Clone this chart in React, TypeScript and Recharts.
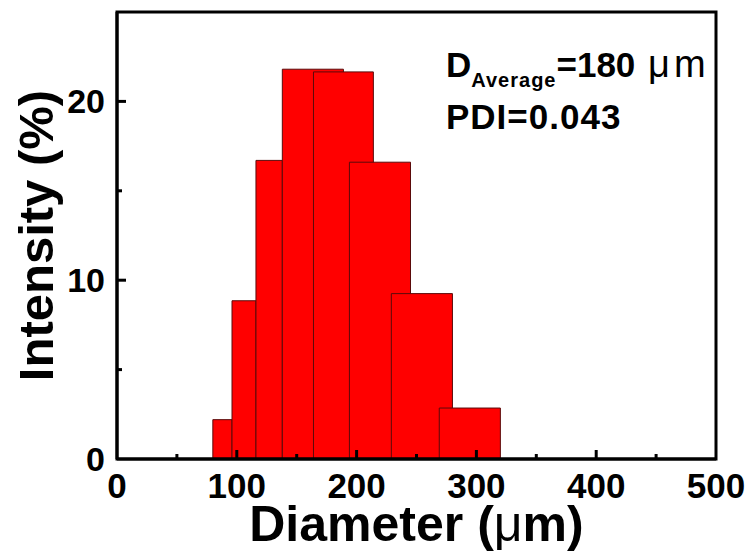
import React from "react";
import {
  ComposedChart,
  XAxis,
  YAxis,
  ReferenceArea,
  Scatter,
} from "recharts";

// Histogram bins (diameter in µm) and intensity (%)
const binStart = [80, 96, 116, 138, 164, 194, 229, 269];
const binEnd = [96, 116, 138, 189, 214, 245, 280, 320];
const intensity = [2.2, 8.85, 16.7, 21.8, 21.65, 16.6, 9.25, 2.85];

const xTicks = [0, 50, 100, 150, 200, 250, 300, 350, 400, 450, 500];
const xLabeled = [0, 100, 200, 300, 400, 500];
const yTicks = [0, 5, 10, 15, 20];
const yLabeled = [0, 10, 20];
const xDomain = [0, 500];
const yDomain = [0, 25];

const avgDiameter = "180";
const pdi = "0.043";

const bins = binStart.map((s, i) => ({
  start: s,
  end: binEnd[i],
  mid: (s + binEnd[i]) / 2,
  value: intensity[i],
}));

const FONT = "'Liberation Sans', Arial, sans-serif";
const W = 753;
const H = 556;

const XTick = (props: any) => {
  const { x, y, payload } = props;
  const v = payload.value;
  const major = xLabeled.includes(v);
  const edge = v === xDomain[0] || v === xDomain[1];
  return (
    <g>
      {!edge && (
        <line x1={x} x2={x} y1={y} y2={y - (major ? 9 : 5)} stroke="#000" strokeWidth={3} />
      )}
      {major && (
        <text x={x} y={y + 39} textAnchor="middle" fontSize={35} fontWeight="bold" fontFamily={FONT} fill="#000">
          {v}
        </text>
      )}
    </g>
  );
};

const YTick = (props: any) => {
  const { x, y, payload } = props;
  const v = payload.value;
  const major = yLabeled.includes(v);
  const edge = v === yDomain[0];
  return (
    <g>
      {!edge && (
        <line x1={x} x2={x + (major ? 9 : 5)} y1={y} y2={y} stroke="#000" strokeWidth={3} />
      )}
      {major && (
        <text x={x - 12} y={y + 12} textAnchor="end" fontSize={34} fontWeight="bold" fontFamily={FONT} fill="#000">
          {v}
        </text>
      )}
    </g>
  );
};

const XTitle = (props: any) => {
  const { x, y, width } = props.viewBox;
  return (
    <text x={x + width / 2} y={y + 82} textAnchor="middle" fontSize={50} fontWeight="bold" fontFamily={FONT} fill="#000">
      Diameter (<tspan fontWeight="normal">μ</tspan>m)
    </text>
  );
};

const YTitle = (props: any) => {
  const { x, y, height } = props.viewBox;
  const cx = x + 53;
  const cy = y + height / 2;
  return (
    <text x={cx} y={cy} transform={`rotate(-90, ${cx}, ${cy})`} textAnchor="middle" fontSize={49} fontWeight="bold" fontFamily={FONT} fill="#000">
      Intensity (%)
    </text>
  );
};

const noShape = () => <g />;

export default function App() {
  return (
    <div style={{ position: "absolute", left: 0, top: 0, width: W, height: H, background: "#fff" }}>
      <ComposedChart width={W} height={H} data={bins} margin={{ top: 12, right: 37, bottom: 0, left: 0 }}>
        <XAxis
          xAxisId="b"
          dataKey="mid"
          type="number"
          orientation="bottom"
          domain={xDomain}
          ticks={xTicks}
          interval={0}
          height={97}
          tickSize={0}
          tickMargin={0}
          tickLine={false}
          tick={<XTick />}
          axisLine={{ stroke: "#000", strokeWidth: 3 }}
          allowDataOverflow
          label={{ content: <XTitle /> }}
        />
        <YAxis
          yAxisId="l"
          dataKey="value"
          type="number"
          domain={yDomain}
          ticks={yTicks}
          interval={0}
          width={117}
          tickSize={0}
          tickMargin={0}
          tickLine={false}
          tick={<YTick />}
          axisLine={{ stroke: "#000", strokeWidth: 3 }}
          allowDataOverflow
          label={{ content: <YTitle /> }}
        />
        {bins.map((b, i) => (
          <ReferenceArea
            key={i}
            xAxisId="b"
            yAxisId="l"
            x1={b.start}
            x2={b.end}
            y1={0}
            y2={b.value}
            fill="#ff0000"
            fillOpacity={1}
            stroke="#5a0a0a"
            strokeWidth={1}
            ifOverflow="visible"
          />
        ))}
        <ReferenceArea
          xAxisId="b"
          yAxisId="l"
          x1={xDomain[0]}
          x2={xDomain[1]}
          y1={yDomain[0]}
          y2={yDomain[1]}
          fill="none"
          fillOpacity={0}
          stroke="#000"
          strokeWidth={3}
          ifOverflow="visible"
        />
        <Scatter xAxisId="b" yAxisId="l" dataKey="value" shape={noShape} isAnimationActive={false} />
      </ComposedChart>
      <svg width={W} height={H} style={{ position: "absolute", left: 0, top: 0, pointerEvents: "none" }}>
        <text x={446} y={77} fontFamily={FONT} fontWeight="bold" fill="#000" fontSize={35}>
          D
          <tspan fontSize={20} dy={10} letterSpacing={1}>Average</tspan>
          <tspan fontSize={35} dy={-10}>={avgDiameter} </tspan>
          <tspan fontWeight="normal" fontSize={38} dx={3} letterSpacing={4}>μm</tspan>
        </text>
        <text x={446} y={129} fontFamily={FONT} fontWeight="bold" fill="#000" fontSize={35} letterSpacing={1}>
          PDI={pdi}
        </text>
      </svg>
    </div>
  );
}
